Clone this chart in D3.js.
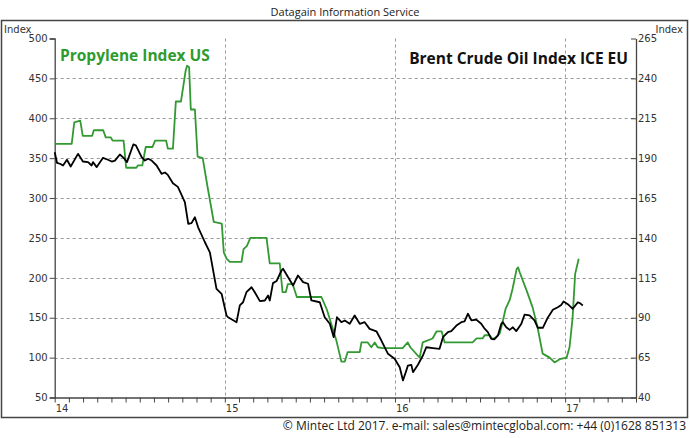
<!DOCTYPE html>
<html><head><meta charset="utf-8">
<script src="https://cdn.jsdelivr.net/npm/d3@7"></script>
<style>
body{margin:0;background:#fff;}
svg{display:block;}
</style></head>
<body>
<svg id="c" width="690" height="438"></svg>
<script>
// ---- data ----
const yearTicks = [2014, 2015, 2016, 2017];
const yearLabels = ["14", "15", "16", "17"];
const leftTicks = [50, 100, 150, 200, 250, 300, 350, 400, 450, 500];
const rightTicks = [40, 65, 90, 115, 140, 165, 190, 215, 240, 265];

const propyleneYear = [0.000,0.100,0.115,0.150,0.165,0.220,0.230,0.285,0.300,0.330,0.340,0.405,0.420,0.480,0.490,0.515,0.535,0.575,0.590,0.655,0.665,0.695,0.712,0.742,0.770,0.778,0.790,0.800,0.824,0.840,0.870,0.900,0.935,0.982,0.994,1.010,1.029,1.098,1.110,1.130,1.150,1.245,1.264,1.323,1.339,1.358,1.370,1.399,1.423,1.568,1.600,1.656,1.685,1.705,1.722,1.793,1.803,1.840,1.861,1.881,1.898,1.928,2.045,2.075,2.090,2.145,2.163,2.221,2.245,2.274,2.292,2.456,2.480,2.515,2.527,2.556,2.574,2.597,2.615,2.632,2.650,2.674,2.691,2.715,2.724,2.733,2.774,2.809,2.838,2.868,2.909,2.938,2.968,3.009,3.026,3.044,3.059,3.080].map(d => 2014 + d);
const propyleneIndex = [368,368,395,397,378,378,385,385,376,376,372,372,338,338,341,341,364,364,372,372,362,362,421,421,460,466,464,411,411,352,350,312,270,268,232,224,220,220,236,240,250,250,218,218,182,182,192,192,176,176,160,121,95,95,107,107,119,119,113,119,113,112,112,119,113,100,119,124,133,133,119,119,124,124,128,128,123,126,130,144,161,172,186,211,213,207,184,163,138,105,100,94,98,100,113,150,205,224];

const brentYear = [0.000,0.014,0.031,0.049,0.072,0.094,0.137,0.166,0.196,0.217,0.225,0.247,0.284,0.313,0.335,0.354,0.383,0.407,0.425,0.462,0.477,0.511,0.530,0.550,0.570,0.599,0.628,0.648,0.665,0.695,0.724,0.765,0.785,0.804,0.824,0.843,0.883,0.912,0.951,0.981,1.010,1.019,1.069,1.088,1.107,1.127,1.157,1.176,1.206,1.235,1.254,1.264,1.283,1.304,1.333,1.342,1.372,1.401,1.430,1.460,1.489,1.509,1.558,1.587,1.617,1.640,1.659,1.685,1.705,1.734,1.763,1.793,1.822,1.851,1.891,1.920,1.959,1.998,2.028,2.047,2.067,2.076,2.096,2.106,2.135,2.164,2.184,2.223,2.262,2.282,2.311,2.331,2.361,2.390,2.409,2.429,2.449,2.478,2.507,2.527,2.546,2.566,2.585,2.605,2.625,2.634,2.654,2.674,2.693,2.713,2.742,2.762,2.791,2.820,2.840,2.869,2.898,2.928,2.957,2.977,2.991,3.016,3.045,3.075,3.089,3.104].map(d => 2014 + d);
const brentIndex = [193.7,187,186.5,185.4,189,184.8,192.7,187.9,187.5,185.4,187.5,184.4,190.2,189,187.9,188.5,192.3,190,187.5,198.6,198,190.6,188.5,189.6,188.5,185.4,180.2,181,179.5,174.3,172,162.4,148.9,149.3,153,146.7,137.3,131,108.1,105,91.4,90.3,87.2,97.7,99.7,106,109.1,106,100.4,100.8,103.9,100.8,111.7,113,119.6,120.7,115.4,110.2,116.5,112.3,111.3,100.8,99.7,90.3,86.2,77.8,90.3,87.2,88.3,86.2,91.4,86.2,87.2,83,81.5,75.7,67.4,64.3,59,50.7,57,60,60.5,55.9,60.5,66.3,71.5,71,70.5,77.8,81,81.6,85.1,87.2,87.7,92.5,88.3,88.8,86.2,83.1,81,76.8,76.5,78.9,86.2,87.2,84,82.4,84,81.6,86,92,91.5,88.3,83.7,83.7,90,95,96.6,98,100.2,98.5,95.6,99.7,99,97.7];

// ---- layout ----
const svg = d3.select("#c");
const L = 54.7, R = 636, T = 38.5, B = 397.5;
const font = "'DejaVu Sans', Verdana, sans-serif";

const x = d3.scaleLinear().domain([2014, 2014 + 41/12]).range([L, R]);
const yL = d3.scaleLinear().domain([50, 500]).range([B, T]);
const yR = d3.scaleLinear().domain([40, 265]).range([B, T]);

// outer frame
svg.append("rect").attr("x", 1.5).attr("y", 20.5).attr("width", 686).attr("height", 397)
  .attr("fill", "none").attr("stroke", "#444").attr("stroke-width", 1.5);

// title
svg.append("text").attr("x", 345).attr("y", 16).attr("text-anchor", "middle")
  .attr("font-family", "'Open Sans', sans-serif").attr("font-size", 11).attr("fill", "#222")
  .text("Datagain Information Service");

// axis titles
svg.append("text").attr("x", 4).attr("y", 33).attr("font-family", font).attr("font-size", 10)
  .attr("fill", "#333").text("Index");
svg.append("text").attr("x", 683).attr("y", 33).attr("text-anchor", "end").attr("font-family", font)
  .attr("font-size", 10).attr("fill", "#333").text("Index");

// gridlines
const grid = svg.append("g").attr("stroke", "#999").attr("stroke-dasharray", "3,3").attr("stroke-width", 1);
leftTicks.filter(v => v > 50 && v < 500).forEach(v => {
  grid.append("line").attr("x1", L).attr("x2", R).attr("y1", Math.round(yL(v)) + 0.5).attr("y2", Math.round(yL(v)) + 0.5);
});
yearTicks.filter(v => v > 2014).forEach(v => {
  grid.append("line").attr("x1", Math.round(x(v)) + 0.5).attr("x2", Math.round(x(v)) + 0.5).attr("y1", T).attr("y2", B);
});

// left axis
const gl = svg.append("g").attr("transform", `translate(${L},0)`)
  .call(d3.axisLeft(yL).tickValues(leftTicks).tickSize(5).tickPadding(2).tickFormat(d3.format("d")));
// right axis
const gr = svg.append("g").attr("transform", `translate(${R},0)`)
  .call(d3.axisRight(yR).tickValues(rightTicks).tickSizeInner(-5).tickSizeOuter(0).tickPadding(2).tickFormat(d3.format("d")));
// bottom axis (monthly ticks)
const months = d3.range(0, 42).map(m => 2014 + m / 12);
const gb = svg.append("g").attr("transform", `translate(0,${B})`)
  .call(d3.axisBottom(x).tickValues(months).tickSize(5).tickSizeOuter(0).tickFormat(""));

[gl, gr, gb].forEach(g => {
  g.select(".domain").attr("stroke", "#444").attr("stroke-width", 1.3);
  g.selectAll(".tick line").attr("stroke", "#444");
  g.selectAll("text").attr("font-family", font).attr("font-size", 10).attr("fill", "#333");
});

// year labels
svg.append("g").selectAll("text").data(yearTicks).join("text")
  .attr("x", d => x(d) + 1).attr("y", 412)
  .attr("font-family", font).attr("font-size", 10).attr("fill", "#333")
  .text((d, i) => yearLabels[i]);

// lines
const lineP = d3.line().x((d, i) => x(propyleneYear[i])).y(d => yL(d));
const lineB = d3.line().x((d, i) => x(brentYear[i])).y(d => yR(d));

svg.append("path").datum(propyleneIndex).attr("d", lineP)
  .attr("fill", "none").attr("stroke", "#339933").attr("stroke-width", 1.8).attr("stroke-linejoin", "round");
svg.append("path").datum(brentIndex).attr("d", lineB)
  .attr("fill", "none").attr("stroke", "#000").attr("stroke-width", 1.8).attr("stroke-linejoin", "round");

// series labels
svg.append("text").attr("x", 60).attr("y", 61).attr("font-family", "'Open Sans', sans-serif")
  .attr("font-weight", "bold").attr("font-size", 15.5).attr("fill", "#2e9b2e").text("Propylene Index US");
svg.append("text").attr("x", 628).attr("y", 64).attr("text-anchor", "end").attr("font-family", "'Open Sans', sans-serif")
  .attr("font-weight", "bold").attr("font-size", 15.5).attr("fill", "#111").text("Brent Crude Oil Index ICE EU");

// footer
svg.append("text").attr("x", 686).attr("y", 430).attr("text-anchor", "end")
  .attr("font-family", "'Open Sans', sans-serif").attr("font-size", 12).attr("fill", "#222")
  .text("© Mintec Ltd 2017. e-mail: sales@mintecglobal.com: +44 (0)1628 851313");
</script>
</body></html>
